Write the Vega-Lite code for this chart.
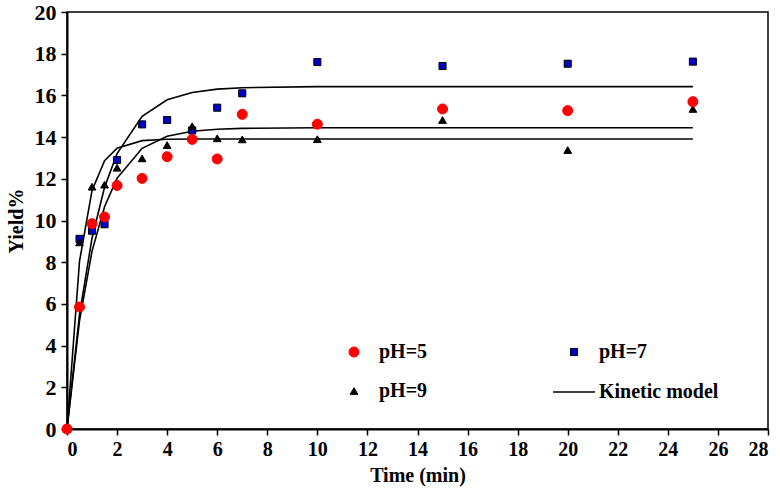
{
  "$schema": "https://vega.github.io/schema/vega-lite/v6.json",
  "autosize": "none",
  "width": 701,
  "height": 417,
  "padding": {"left": 67, "top": 12, "right": 12, "bottom": 66},
  "background": "white",
  "config": {
    "font": "Liberation Serif",
    "view": {"stroke": "black", "strokeWidth": 1.5},
    "legend": {"padding": 0},
    "axis": {
      "grid": false,
      "domainColor": "black",
      "domainWidth": 2,
      "tickColor": "black",
      "tickWidth": 1.5,
      "tickSize": 6,
      "labelFont": "Liberation Serif",
      "labelFontWeight": "bold",
      "labelColor": "black",
      "titleFont": "Liberation Serif",
      "titleFontWeight": "bold",
      "titleColor": "black",
      "titleFontSize": 20
    }
  },
  "datasets": {
    "obs": [
      {"t": 0, "y": 0, "series": "pH=7"},
      {"t": 0.5, "y": 9.12, "series": "pH=7"},
      {"t": 1, "y": 9.51, "series": "pH=7"},
      {"t": 1.5, "y": 9.82, "series": "pH=7"},
      {"t": 2, "y": 12.9, "series": "pH=7"},
      {"t": 3, "y": 14.61, "series": "pH=7"},
      {"t": 4, "y": 14.82, "series": "pH=7"},
      {"t": 5, "y": 14.32, "series": "pH=7"},
      {"t": 6, "y": 15.41, "series": "pH=7"},
      {"t": 7, "y": 16.1, "series": "pH=7"},
      {"t": 10, "y": 17.6, "series": "pH=7"},
      {"t": 15, "y": 17.41, "series": "pH=7"},
      {"t": 20, "y": 17.52, "series": "pH=7"},
      {"t": 25, "y": 17.62, "series": "pH=7"},
      {"t": 0, "y": 0, "series": "pH=9"},
      {"t": 0.5, "y": 8.95, "series": "pH=9"},
      {"t": 1, "y": 11.62, "series": "pH=9"},
      {"t": 1.5, "y": 11.72, "series": "pH=9"},
      {"t": 2, "y": 12.53, "series": "pH=9"},
      {"t": 3, "y": 12.98, "series": "pH=9"},
      {"t": 4, "y": 13.62, "series": "pH=9"},
      {"t": 5, "y": 14.52, "series": "pH=9"},
      {"t": 6, "y": 13.94, "series": "pH=9"},
      {"t": 7, "y": 13.89, "series": "pH=9"},
      {"t": 10, "y": 13.9, "series": "pH=9"},
      {"t": 15, "y": 14.82, "series": "pH=9"},
      {"t": 20, "y": 13.38, "series": "pH=9"},
      {"t": 25, "y": 15.35, "series": "pH=9"},
      {"t": 0, "y": 0, "series": "pH=5"},
      {"t": 0.5, "y": 5.85, "series": "pH=5"},
      {"t": 1, "y": 9.85, "series": "pH=5"},
      {"t": 1.5, "y": 10.17, "series": "pH=5"},
      {"t": 2, "y": 11.68, "series": "pH=5"},
      {"t": 3, "y": 12.02, "series": "pH=5"},
      {"t": 4, "y": 13.06, "series": "pH=5"},
      {"t": 5, "y": 13.89, "series": "pH=5"},
      {"t": 6, "y": 12.95, "series": "pH=5"},
      {"t": 7, "y": 15.09, "series": "pH=5"},
      {"t": 10, "y": 14.62, "series": "pH=5"},
      {"t": 15, "y": 15.35, "series": "pH=5"},
      {"t": 20, "y": 15.27, "series": "pH=5"},
      {"t": 25, "y": 15.7, "series": "pH=5"}
    ],
    "model": [
      {"t": 0, "y": 0, "m": "pH=5"},
      {"t": 0.5, "y": 5.2, "m": "pH=5"},
      {"t": 1, "y": 8.53, "m": "pH=5"},
      {"t": 1.5, "y": 10.66, "m": "pH=5"},
      {"t": 2, "y": 12.03, "m": "pH=5"},
      {"t": 3, "y": 13.46, "m": "pH=5"},
      {"t": 4, "y": 14.04, "m": "pH=5"},
      {"t": 5, "y": 14.28, "m": "pH=5"},
      {"t": 6, "y": 14.38, "m": "pH=5"},
      {"t": 7, "y": 14.42, "m": "pH=5"},
      {"t": 10, "y": 14.45, "m": "pH=5"},
      {"t": 15, "y": 14.45, "m": "pH=5"},
      {"t": 20, "y": 14.45, "m": "pH=5"},
      {"t": 25, "y": 14.45, "m": "pH=5"},
      {"t": 0, "y": 0, "m": "pH=7"},
      {"t": 0.5, "y": 5.5, "m": "pH=7"},
      {"t": 1, "y": 9.16, "m": "pH=7"},
      {"t": 1.5, "y": 11.59, "m": "pH=7"},
      {"t": 2, "y": 13.21, "m": "pH=7"},
      {"t": 3, "y": 15.0, "m": "pH=7"},
      {"t": 4, "y": 15.79, "m": "pH=7"},
      {"t": 5, "y": 16.14, "m": "pH=7"},
      {"t": 6, "y": 16.3, "m": "pH=7"},
      {"t": 7, "y": 16.37, "m": "pH=7"},
      {"t": 10, "y": 16.42, "m": "pH=7"},
      {"t": 15, "y": 16.42, "m": "pH=7"},
      {"t": 20, "y": 16.42, "m": "pH=7"},
      {"t": 25, "y": 16.42, "m": "pH=7"},
      {"t": 0, "y": 0, "m": "pH=9"},
      {"t": 0.5, "y": 8.05, "m": "pH=9"},
      {"t": 1, "y": 11.44, "m": "pH=9"},
      {"t": 1.5, "y": 12.87, "m": "pH=9"},
      {"t": 2, "y": 13.47, "m": "pH=9"},
      {"t": 3, "y": 13.83, "m": "pH=9"},
      {"t": 4, "y": 13.9, "m": "pH=9"},
      {"t": 5, "y": 13.91, "m": "pH=9"},
      {"t": 7, "y": 13.91, "m": "pH=9"},
      {"t": 10, "y": 13.91, "m": "pH=9"},
      {"t": 15, "y": 13.91, "m": "pH=9"},
      {"t": 20, "y": 13.91, "m": "pH=9"},
      {"t": 25, "y": 13.91, "m": "pH=9"}
    ]
  },
  "layer": [
    {
      "data": {"name": "model"},
      "mark": {"type": "line", "strokeWidth": 1.6},
      "encoding": {
        "x": {"field": "t", "type": "quantitative"},
        "y": {"field": "y", "type": "quantitative"},
        "detail": {"field": "m", "type": "nominal"},
        "color": {
          "datum": "Kinetic model",
          "scale": {"domain": ["Kinetic model"], "range": ["#000000"]},
          "legend": {
            "title": null, "orient": "none", "legendX": 485, "legendY": 358,
            "symbolType": "stroke", "symbolSize": 1764, "symbolStrokeWidth": 1.6, "symbolStrokeColor": "black",
            "labelFontSize": 20, "labelFont": "Liberation Serif", "labelFontWeight": "bold",
            "labelColor": "black", "labelOffset": 3
          }
        }
      }
    },
    {
      "data": {"name": "obs"},
      "mark": {"type": "point", "filled": false, "opacity": 1, "strokeWidth": 1},
      "encoding": {
        "x": {
          "field": "t", "type": "quantitative",
          "scale": {"domain": [0, 28], "nice": false},
          "axis": {"values": [0,2,4,6,8,10,12,14,16,18,20,22,24,26,28], "labelFontSize": 20, "labelPadding": 4, "title": "Time (min)", "titlePadding": 6}
        },
        "y": {
          "field": "y", "type": "quantitative",
          "scale": {"domain": [0, 20], "nice": false},
          "axis": {"values": [0,2,4,6,8,10,12,14,16,18,20], "labelFontSize": 22, "labelPadding": 5, "title": "Yield%", "titlePadding": 8}
        },
        "fill": {
          "field": "series", "type": "nominal",
          "scale": {"domain": ["pH=5", "pH=7", "pH=9"], "range": ["#ff0000", "#0000c8", "#000000"]},
          "legend": {
            "title": null, "orient": "none", "direction": "horizontal", "legendX": 277, "legendY": 330, "columns": 2,
            "columnPadding": 136, "rowPadding": 19, "labelFontSize": 20, "labelFont": "Liberation Serif",
            "labelFontWeight": "bold", "labelColor": "black", "labelOffset": 15, "symbolStrokeWidth": 1
          }
        },
        "stroke": {
          "field": "series", "type": "nominal",
          "scale": {"domain": ["pH=5", "pH=7", "pH=9"], "range": ["#ff0000", "#000000", "#000000"]}
        },
        "shape": {
          "field": "series", "type": "nominal",
          "scale": {"domain": ["pH=5", "pH=7", "pH=9"], "range": ["circle", "square", "triangle-up"]}
        },
        "size": {
          "field": "series", "type": "nominal",
          "scale": {"type": "ordinal", "domain": ["pH=5", "pH=7", "pH=9"], "range": [100, 50, 60]}
        }
      }
    }
  ]
}
